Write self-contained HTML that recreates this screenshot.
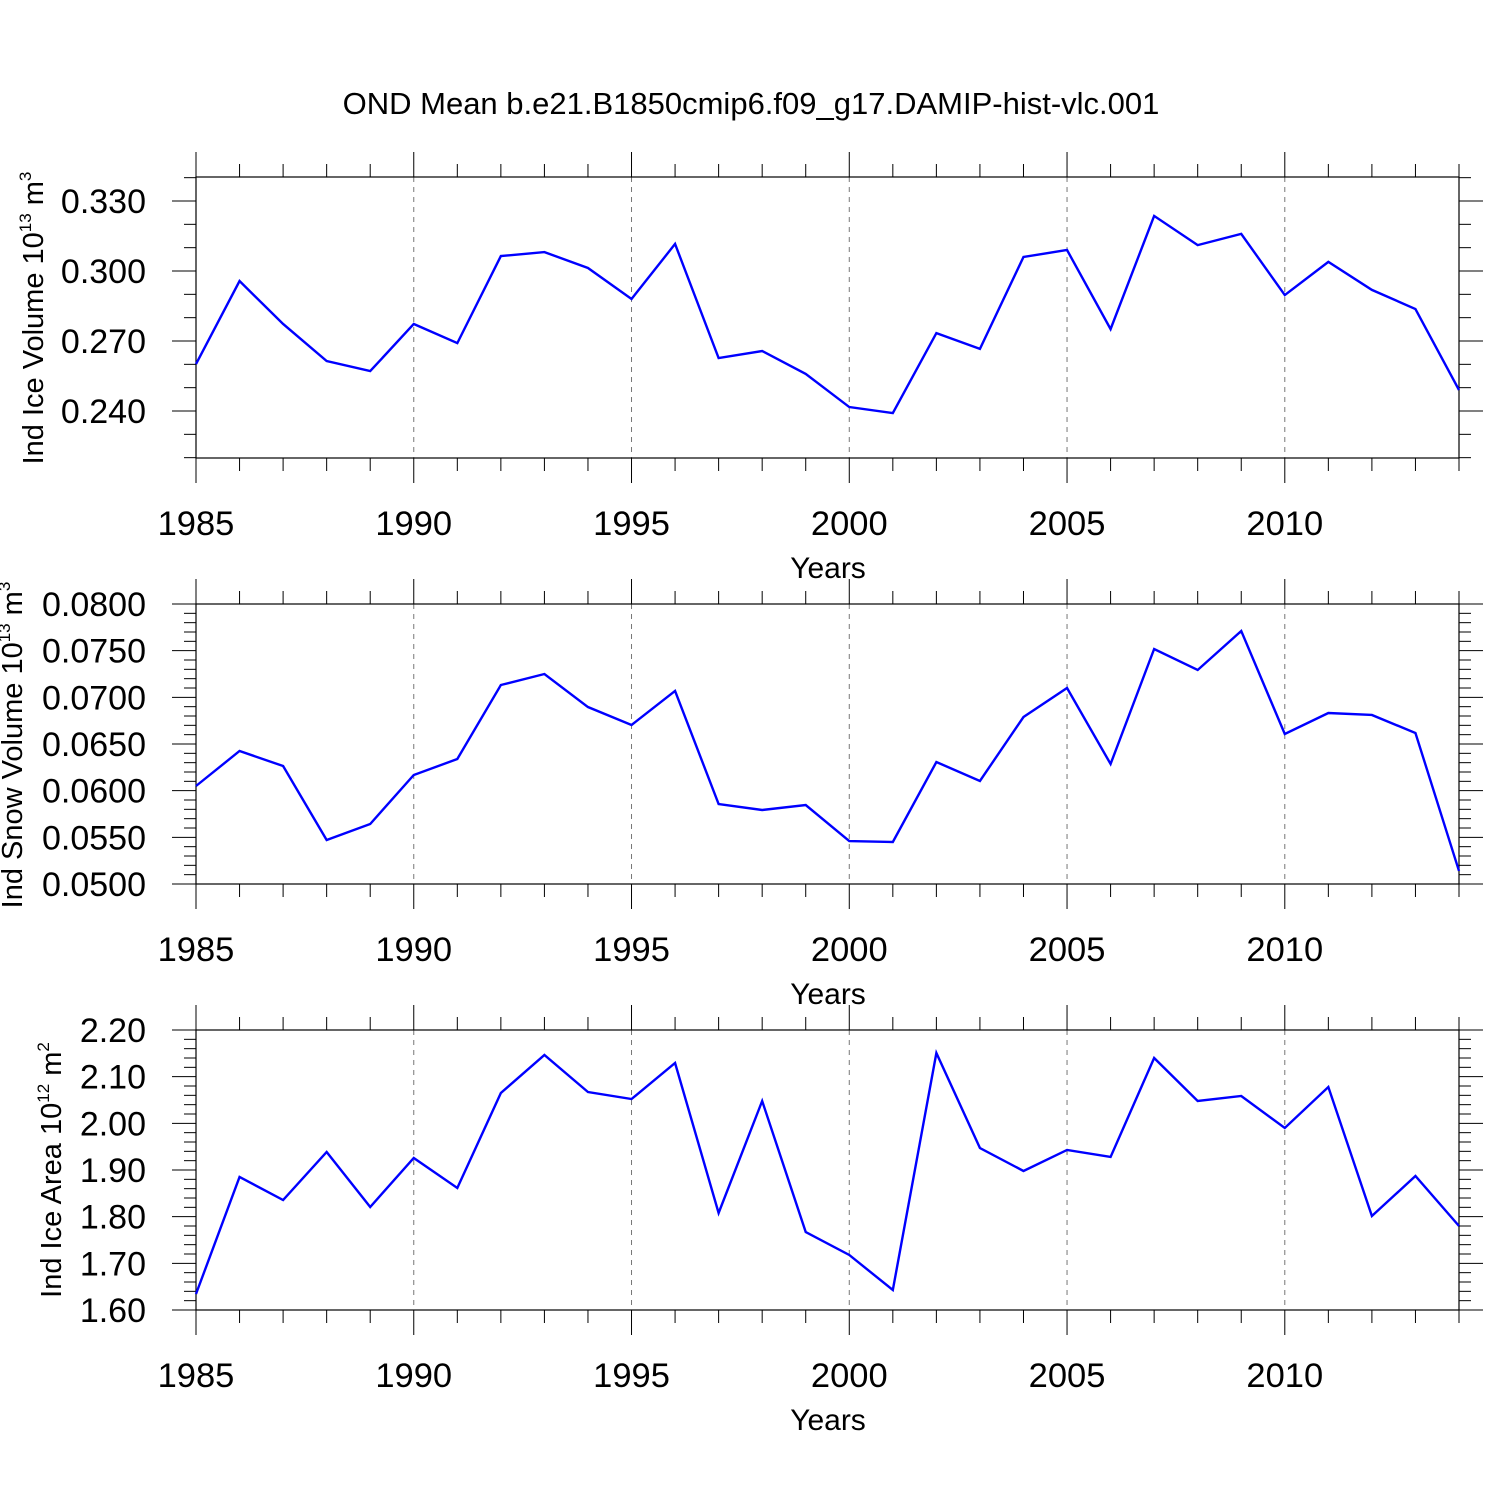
<!DOCTYPE html>
<html><head><meta charset="utf-8"><style>
body{margin:0;background:#fff}
svg{display:block;font-family:"Liberation Sans",Arial,sans-serif}
</style></head><body>
<svg id="chart" width="1500" height="1500" viewBox="0 0 1500 1500" xmlns="http://www.w3.org/2000/svg">
<rect width="1500" height="1500" fill="#fff"/>
<text x="751" y="114" font-size="31" text-anchor="middle">OND Mean b.e21.B1850cmip6.f09_g17.DAMIP-hist-vlc.001</text>
</svg>
<script>
const years = [1985,1986,1987,1988,1989,1990,1991,1992,1993,1994,1995,1996,1997,1998,1999,2000,2001,2002,2003,2004,2005,2006,2007,2008,2009,2010,2011,2012,2013,2014];
const iceVolume = [0.2601,0.2957,0.2773,0.2614,0.2571,0.2773,0.2691,0.3064,0.3081,0.3013,0.2880,0.3116,0.2627,0.2657,0.2559,0.2417,0.2391,0.2734,0.2666,0.3060,0.3090,0.2751,0.3236,0.3111,0.3159,0.2897,0.3039,0.2919,0.2837,0.2490];
const snowVolume = [0.0605,0.06425,0.06264,0.05471,0.05643,0.06168,0.06339,0.07132,0.0725,0.06896,0.06704,0.07068,0.05857,0.05793,0.05846,0.0546,0.0545,0.06307,0.06104,0.06789,0.0710,0.06286,0.07518,0.07293,0.07711,0.06607,0.06832,0.06811,0.06618,0.0514];
const iceArea = [1.6343,1.885,1.8357,1.9386,1.8207,1.9257,1.8614,2.065,2.1464,2.0671,2.0521,2.1293,1.8079,2.0479,1.7671,1.7179,1.6429,2.1507,1.9471,1.8979,1.9429,1.9279,2.14,2.0479,2.0586,1.99,2.0779,1.8014,1.8871,1.78];
const xTickYears = [1985,1990,1995,2000,2005,2010];
const iceVolTicks = [0.24,0.27,0.30,0.33];
const snowTicks = [0.05,0.055,0.06,0.065,0.07,0.075,0.08];
const areaTicks = [1.6,1.7,1.8,1.9,2.0,2.1,2.2];

const NS="http://www.w3.org/2000/svg";
const svg=document.getElementById('chart');
function el(tag,attrs,parent){const e=document.createElementNS(NS,tag);for(const k in attrs)e.setAttribute(k,attrs[k]);(parent||svg).appendChild(e);return e;}
const X0=196,X1=1459;
const xs=y=>X0+(y-1985)/(2014-1985)*(X1-X0);

function panel(cfg){
  const g=el('g',{});
  
  
  const {top,bot,vmin,vmax}=cfg;
  const ys=v=>bot-(v-vmin)/(vmax-vmin)*(bot-top);
  xTickYears.forEach(y=>{ if(y===1985)return;
    const l=el('line',{x1:xs(y),x2:xs(y),y1:top,y2:bot,stroke:'#777','stroke-width':1,'stroke-dasharray':'5,5'},g);
    
    
  });
  years.forEach(y=>{
    const major=xTickYears.includes(y);const len=major?25:13;
    el('line',{x1:xs(y),x2:xs(y),y1:top,y2:top-len,stroke:'#000','stroke-width':1},g);
    el('line',{x1:xs(y),x2:xs(y),y1:bot,y2:bot+len,stroke:'#000','stroke-width':1},g);
  });
  xTickYears.forEach(y=>{
    const t=el('text',{x:xs(y),y:bot+77,'font-size':34.5,'text-anchor':'middle'},g);
    t.textContent=y;
    
    
  });
  const xt=el('text',{x:828,y:bot+120,'font-size':30,'text-anchor':'middle'},g);
  xt.textContent='Years';
  
  
  const step=cfg.ticks[1]-cfg.ticks[0];const ms=step/cfg.minor;
  for(let v=cfg.ticks[0]-Math.ceil((cfg.ticks[0]-vmin)/ms)*ms; v<=vmax+1e-9; v+=ms){
    if(v<vmin-1e-9)continue;
    const major=cfg.ticks.some(t=>Math.abs(t-v)<ms/10);const len=major?24:12;
    el('line',{x1:X0,x2:X0-len,y1:ys(v),y2:ys(v),stroke:'#000','stroke-width':1},g);
    el('line',{x1:X1,x2:X1+len,y1:ys(v),y2:ys(v),stroke:'#000','stroke-width':1},g);
  }
  cfg.ticks.forEach(v=>{
    const t=el('text',{x:146,y:ys(v)+12,'font-size':34,'text-anchor':'end'},g);
    t.textContent=v.toFixed(cfg.dec);
    
    
  });
  el('rect',{x:X0,y:top,width:X1-X0,height:bot-top,fill:'none',stroke:'#000','stroke-width':1.2},g);
  const pts=cfg.data.map((v,i)=>xs(years[i])+','+ys(v)).join(' ');
  const pl=el('polyline',{points:pts,fill:'none',stroke:'#0000ff','stroke-width':2.4},g);
  
  
  const yt=el('text',{x:0,y:0,'font-size':29,'text-anchor':'middle',transform:`translate(${cfg.tx},${cfg.ty}) rotate(-90)`},g);
  yt.innerHTML=cfg.title;
  
  
}
panel({name:'ice-volume-panel',top:177,bot:458,vmin:0.240-(458-411)/70*0.03,vmax:0.330+(201-177)/70*0.03,data:iceVolume,ticks:iceVolTicks,minor:3,dec:3,tx:43,ty:318,
  title:'Ind Ice Volume 10<tspan font-size="17" dy="-12">13</tspan><tspan dy="12"> m</tspan><tspan font-size="17" dy="-12">3</tspan>'});
panel({name:'snow-volume-panel',top:604,bot:884,vmin:0.05,vmax:0.08,data:snowVolume,ticks:snowTicks,minor:5,dec:4,tx:22,ty:745,
  title:'Ind Snow Volume 10<tspan font-size="17" dy="-12">13</tspan><tspan dy="12"> m</tspan><tspan font-size="17" dy="-12">3</tspan>'});
panel({name:'ice-area-panel',top:1030,bot:1310,vmin:1.6,vmax:2.2,data:iceArea,ticks:areaTicks,minor:5,dec:2,tx:61,ty:1170,
  title:'Ind Ice Area 10<tspan font-size="17" dy="-12">12</tspan><tspan dy="12"> m</tspan><tspan font-size="17" dy="-12">2</tspan>'});
</script>
</body></html>
